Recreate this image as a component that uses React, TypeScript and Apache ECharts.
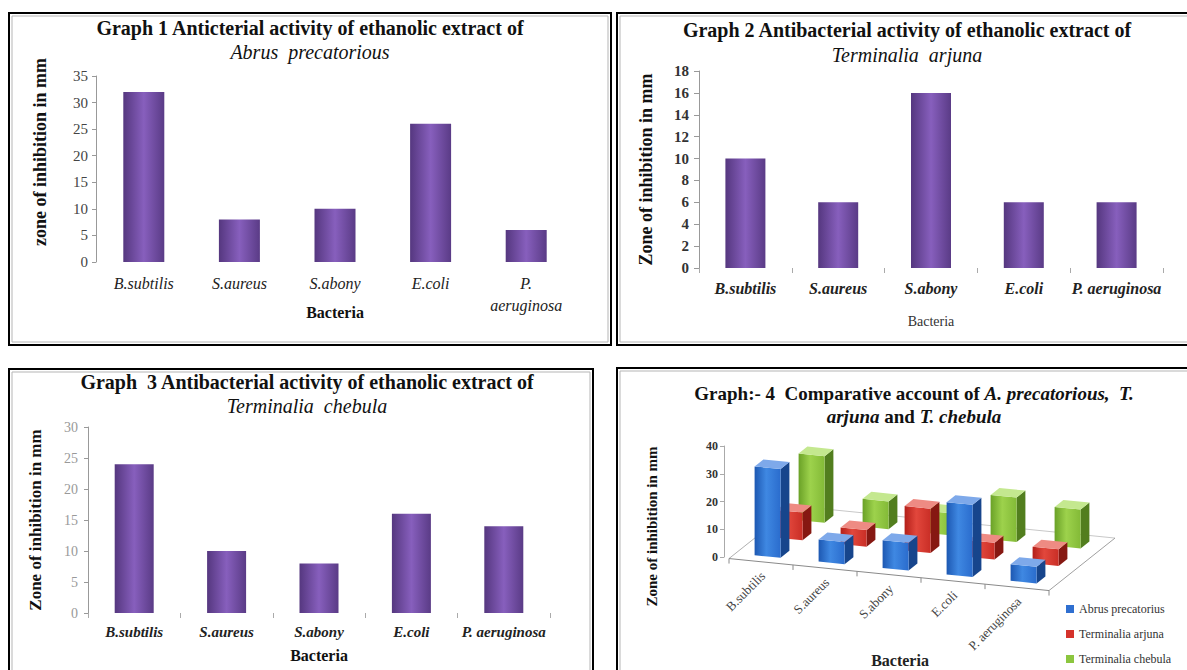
import { useEffect, useRef } from 'react';
import * as echarts from 'echarts';

const FONT = '"Liberation Serif", "Times New Roman", Times, serif';

// ---- data ----
const categories = ['B.subtilis', 'S.aureus', 'S.abony', 'E.coli', 'P. aeruginosa'];
const categoriesWrapped = ['B.subtilis', 'S.aureus', 'S.abony', 'E.coli', 'P.\naeruginosa'];
const plantNames = ['Abrus precatorius', 'Terminalia arjuna', 'Terminalia chebula'];
const abrusValues = [32, 8, 10, 26, 6];
const arjunaValues = [10, 6, 16, 6, 6];
const chebulaValues = [24, 10, 8, 16, 14];
const yMaxes = [35, 18, 30, 40];
const ySteps = [5, 2, 5, 10];

// ---- styling constants for the pseudo-3D panel ----
const DX = 22;
const DY = -17.5;
const SKEW = 0.1;
const Y_OFF = -4;
const HALF_W = 13;
const BOX_D = 0.4;

const purple = () =>
  new echarts.graphic.LinearGradient(0, 0, 1, 0, [
    { offset: 0, color: '#55377f' },
    { offset: 0.5, color: '#875fbd' },
    { offset: 1, color: '#5a3b86' },
  ]);

const palette3d = [
  { front: ['#1d58b2', '#3f88e2', '#2a6ccd'], side: '#17458c', top: '#7ea9ea', legend: '#2f6fd0' },
  { front: ['#b31f19', '#e2473c', '#c92e26'], side: '#861812', top: '#ee8b83', legend: '#d5332b' },
  { front: ['#6aa127', '#9dd24c', '#83ba37'], side: '#527e1e', top: '#c4e88f', legend: '#8cc63f' },
];

function projector(api: any) {
  const o = api.coord([0, 0]);
  const band = api.coord([1, 0])[0] - o[0];
  const unit = (o[1] - api.coord([0, 10])[1]) / 10;
  const p = (c: number, r: number, v: number) => [
    o[0] + c * band + r * DX,
    o[1] + Y_OFF + c * band * SKEW + r * DY - v * unit,
  ];
  return { band, p };
}

function barRenderer(row: number) {
  const col = palette3d[row];
  return (params: any, api: any) => {
    const { band, p } = projector(api);
    const i = api.value(0) as number;
    const v = api.value(1) as number;
    const hw = HALF_W / band;
    const rf = row - BOX_D / 2;
    const rb = row + BOX_D / 2;
    const L = i - hw;
    const R = i + hw;
    const front = [p(L, rf, 0), p(R, rf, 0), p(R, rf, v), p(L, rf, v)];
    const side = [p(R, rf, 0), p(R, rb, 0), p(R, rb, v), p(R, rf, v)];
    const top = [p(L, rf, v), p(R, rf, v), p(R, rb, v), p(L, rb, v)];
    return {
      type: 'group',
      children: [
        { type: 'polygon', shape: { points: side }, style: { fill: col.side } },
        {
          type: 'polygon',
          shape: { points: front },
          style: {
            fill: new echarts.graphic.LinearGradient(0, 0, 1, 0, [
              { offset: 0, color: col.front[0] },
              { offset: 0.45, color: col.front[1] },
              { offset: 1, color: col.front[2] },
            ]),
          },
        },
        { type: 'polygon', shape: { points: top }, style: { fill: col.top } },
      ],
    };
  };
}

function floorRenderer(params: any, api: any) {
  const { p } = projector(api);
  const c0 = -0.5;
  const c1 = categories.length - 0.5;
  const r0 = -0.5;
  const r1 = plantNames.length - 0.5;
  const line = (a: number[], b: number[], color: string) => ({
    type: 'polyline',
    shape: { points: [a, b] },
    style: { stroke: color, lineWidth: 1, fill: null },
  });
  const children: any[] = [
    line(p(c0, r1, 0), p(c1, r1, 0), '#c8c8c8'),
    line(p(c0, r0, 0), p(c0, r1, 0), '#b0b0b0'),
    line(p(c0, r0, 0), p(c1, r0, 0), '#8a8a8a'),
    line(p(c1, r0, 0), p(c1, r1, 0), '#a0a0a0'),
  ];
  for (let k = 0; k <= categories.length; k++) {
    const a = p(c0 + k, r0, 0);
    children.push(line(a, [a[0], a[1] + 5], '#8a8a8a'));
  }
  return { type: 'group', children };
}

function labelRenderer(params: any, api: any) {
  const { p } = projector(api);
  const i = api.value(0) as number;
  const pt = p(i, -0.5, 0);
  return {
    type: 'text',
    x: pt[0] + 2,
    y: pt[1] + 12,
    rotation: Math.PI / 4,
    style: {
      text: categories[i],
      align: 'right',
      verticalAlign: 'middle',
      fontFamily: FONT,
      fontSize: 13,
      fill: '#444',
    },
  };
}

const borderRects = [
  [9, 13, 602, 332],
  [617, 13, 600, 332],
  [9, 369, 584, 330],
  [617, 368, 600, 330],
];

export default function App() {
  const ref = useRef<HTMLDivElement>(null);
  useEffect(() => {
    if (!ref.current) return;
    const chart = echarts.init(ref.current, undefined, { renderer: 'svg' });

    const titleBase = (
      text: string,
      sub: string,
      left: number,
      top: number,
      size: number,
      gap: number,
      extra: any = {}
    ) => ({
      text,
      subtext: sub,
      left,
      top,
      textAlign: 'center',
      padding: 0,
      itemGap: gap,
      textStyle: {
        fontFamily: FONT,
        fontSize: size,
        fontWeight: 'bold',
        color: '#111',
        ...(extra.textRich ? { rich: extra.textRich } : {}),
      },
      subtextStyle: {
        fontFamily: FONT,
        fontSize: size,
        fontStyle: extra.subItalic === false ? 'normal' : 'italic',
        fontWeight: extra.subBold ? 'bold' : 'normal',
        color: '#111',
        ...(extra.subRich ? { rich: extra.subRich } : {}),
      },
    });

    const italicRich = {
      i: { fontFamily: FONT, fontSize: 19, fontWeight: 'bold', fontStyle: 'italic', color: '#111' },
    };

    const yName = (name: string, gap: number, size: number, padding?: number[]) => ({
      name,
      nameLocation: 'middle',
      nameRotate: 90,
      nameGap: gap,
      nameMoveOverlap: false,
      nameTextStyle: {
        fontFamily: FONT,
        fontSize: size,
        fontWeight: 'bold',
        color: '#111',
        ...(padding ? { padding } : {}),
      },
    });

    const option: any = {
      animation: false,
      backgroundColor: '#fff',
      title: [
        titleBase('Graph 1 Anticterial activity of ethanolic extract of', 'Abrus  precatorious', 310, 18, 20, 4),
        titleBase('Graph 2 Antibacterial activity of ethanolic extract of', 'Terminalia  arjuna', 907, 20, 20, 5),
        titleBase('Graph  3 Antibacterial activity of ethanolic extract of', 'Terminalia  chebula', 307, 372, 20, 4),
        titleBase(
          'Graph:- 4  Comparative account of {i|A. precatorious,}  {i|T.}',
          '{i|arjuna} and {i|T. chebula}',
          914,
          384,
          19,
          4,
          { textRich: italicRich, subRich: italicRich, subItalic: false, subBold: true }
        ),
      ],
      legend: {
        data: plantNames,
        orient: 'vertical',
        left: 1066,
        top: 603,
        padding: 0,
        itemWidth: 8,
        itemHeight: 8,
        itemGap: 13,
        icon: 'rect',
        selectedMode: false,
        textStyle: { fontFamily: FONT, fontSize: 12, lineHeight: 12, color: '#333' },
      },
      grid: [
        { left: 96, top: 76, width: 478, height: 186 },
        { left: 699, top: 71, width: 464, height: 197 },
        { left: 88, top: 427, width: 462, height: 186 },
        { left: 740, top: 446, width: 320, height: 111 },
      ],
      xAxis: [
        {
          type: 'category',
          gridIndex: 0,
          data: categoriesWrapped,
          axisLine: { show: false },
          axisTick: { show: false },
          axisLabel: { interval: 0, fontFamily: FONT, fontSize: 16, fontStyle: 'italic', color: '#222', margin: 10, lineHeight: 22 },
          name: 'Bacteria',
          nameLocation: 'middle',
          nameGap: 42,
          nameMoveOverlap: false,
          nameTextStyle: { fontFamily: FONT, fontSize: 16, fontWeight: 'bold', color: '#111' },
        },
        {
          type: 'category',
          gridIndex: 1,
          data: categories,
          axisLine: { show: false },
          axisTick: { show: true, length: 5, lineStyle: { color: '#aaa' } },
          axisLabel: { interval: 0, fontFamily: FONT, fontSize: 16, fontStyle: 'italic', fontWeight: 'bold', color: '#222', margin: 12 },
          name: 'Bacteria',
          nameLocation: 'middle',
          nameGap: 46,
          nameMoveOverlap: false,
          nameTextStyle: { fontFamily: FONT, fontSize: 14, color: '#333' },
        },
        {
          type: 'category',
          gridIndex: 2,
          data: categories,
          axisLine: { show: false },
          axisTick: { show: true, length: 5, lineStyle: { color: '#aaa' } },
          axisLabel: { interval: 0, fontFamily: FONT, fontSize: 15, fontStyle: 'italic', fontWeight: 'bold', color: '#222', margin: 11 },
          name: 'Bacteria',
          nameLocation: 'middle',
          nameGap: 34,
          nameMoveOverlap: false,
          nameTextStyle: { fontFamily: FONT, fontSize: 16, fontWeight: 'bold', color: '#111' },
        },
        {
          type: 'category',
          gridIndex: 3,
          data: categories,
          axisLine: { show: false },
          axisTick: { show: false },
          axisLabel: { show: false },
          name: 'Bacteria',
          nameLocation: 'middle',
          nameGap: 95,
          nameMoveOverlap: false,
          nameTextStyle: { fontFamily: FONT, fontSize: 16, fontWeight: 'bold', color: '#222' },
        },
      ],
      yAxis: [
        {
          type: 'value',
          gridIndex: 0,
          min: 0,
          max: yMaxes[0],
          interval: ySteps[0],
          axisLine: { show: true, lineStyle: { color: '#999' } },
          axisTick: { show: true, length: 4, lineStyle: { color: '#999' } },
          splitLine: { show: false },
          axisLabel: { fontFamily: FONT, fontSize: 15, color: '#444', margin: 8 },
          ...yName('zone of inhibition in mm', 47, 18, [0, 0, 0, 34]),
        },
        {
          type: 'value',
          gridIndex: 1,
          min: 0,
          max: yMaxes[1],
          interval: ySteps[1],
          axisLine: { show: true, lineStyle: { color: '#999' } },
          axisTick: { show: true, length: 5, lineStyle: { color: '#999' } },
          splitLine: { show: false },
          axisLabel: { fontFamily: FONT, fontSize: 15, fontWeight: 'bold', color: '#333', margin: 10 },
          ...yName('Zone of inhibition in mm', 44, 18),
        },
        {
          type: 'value',
          gridIndex: 2,
          min: 0,
          max: yMaxes[2],
          interval: ySteps[2],
          axisLine: { show: true, lineStyle: { color: '#999' } },
          axisTick: { show: true, length: 4, lineStyle: { color: '#999' } },
          splitLine: { show: false },
          axisLabel: { fontFamily: FONT, fontSize: 14, color: '#999', margin: 10 },
          ...yName('Zone of inhibition in mm', 44, 17),
        },
        {
          type: 'value',
          gridIndex: 3,
          min: 0,
          max: yMaxes[3],
          interval: ySteps[3],
          offset: 16,
          axisLine: { show: true, lineStyle: { color: '#aaa' } },
          axisTick: { show: true, length: 4, lineStyle: { color: '#aaa' } },
          splitLine: { show: false },
          axisLabel: { fontFamily: FONT, fontSize: 12, fontWeight: 'bold', color: '#333', margin: 6 },
          ...yName('Zone of inhibition in mm', 65, 15, [0, 50, 0, 0]),
        },
      ],
      series: [
        { type: 'bar', name: 'Graph 1', xAxisIndex: 0, yAxisIndex: 0, data: abrusValues, barWidth: 41, itemStyle: { color: purple() } },
        { type: 'bar', name: 'Graph 2', xAxisIndex: 1, yAxisIndex: 1, data: arjunaValues, barWidth: 40, itemStyle: { color: purple() } },
        { type: 'bar', name: 'Graph 3', xAxisIndex: 2, yAxisIndex: 2, data: chebulaValues, barWidth: 39, itemStyle: { color: purple() } },
        {
          type: 'custom',
          name: 'floor',
          xAxisIndex: 3,
          yAxisIndex: 3,
          z: 1,
          silent: true,
          renderItem: floorRenderer,
          data: [[0, 0]],
        },
        {
          type: 'custom',
          name: plantNames[2],
          xAxisIndex: 3,
          yAxisIndex: 3,
          z: 2,
          renderItem: barRenderer(2),
          itemStyle: { color: palette3d[2].legend },
          data: chebulaValues.map((v, i) => [i, v]),
        },
        {
          type: 'custom',
          name: plantNames[1],
          xAxisIndex: 3,
          yAxisIndex: 3,
          z: 2,
          renderItem: barRenderer(1),
          itemStyle: { color: palette3d[1].legend },
          data: arjunaValues.map((v, i) => [i, v]),
        },
        {
          type: 'custom',
          name: plantNames[0],
          xAxisIndex: 3,
          yAxisIndex: 3,
          z: 2,
          renderItem: barRenderer(0),
          itemStyle: { color: palette3d[0].legend },
          data: abrusValues.map((v, i) => [i, v]),
        },
        {
          type: 'custom',
          name: 'labels',
          xAxisIndex: 3,
          yAxisIndex: 3,
          z: 3,
          silent: true,
          renderItem: labelRenderer,
          data: categories.map((_, i) => [i, 0]),
        },
      ],
      graphic: borderRects.flatMap(([x, y, w, h]) => [
        { type: 'rect', silent: true, shape: { x, y, width: w, height: h }, style: { fill: 'none', stroke: '#000', lineWidth: 2 } },
        { type: 'rect', silent: true, shape: { x: x + 3, y: y + 3, width: w - 6, height: h - 6 }, style: { fill: 'none', stroke: '#b5b5b5', lineWidth: 1 } },
      ]),
    };

    chart.setOption(option);
    return () => chart.dispose();
  }, []);

  return <div ref={ref} style={{ position: 'fixed', left: 0, top: 0, width: 1187, height: 670, background: '#fff' }} />;
}
